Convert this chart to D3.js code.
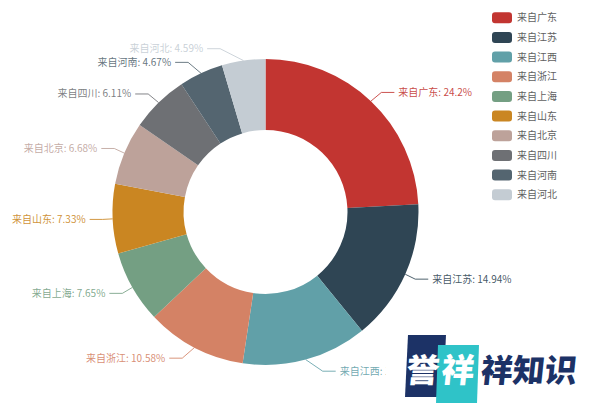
<!DOCTYPE html>
<html>
<head>
<meta charset="utf-8">
<script src="https://cdn.jsdelivr.net/npm/d3@7"></script>
<style>
  html, body { margin: 0; padding: 0; background: #ffffff; }
  svg { display: block; }
</style>
</head>
<body>
<svg id="chart" width="600" height="413"></svg>
<script>
// ---- data ----
const categories = ['来自广东', '来自江苏', '来自江西', '来自浙江', '来自上海', '来自山东', '来自北京', '来自四川', '来自河南', '来自河北'];
const values = [24.2, 14.94, 13.25, 10.58, 7.65, 7.33, 6.68, 6.11, 4.67, 4.59];
const colors = ['#c23531', '#2f4554', '#61a0a8', '#d48265', '#749f83', '#ca8622', '#bda29a', '#6e7074', '#546570', '#c4ccd3'];
const watermarkBoxed = ['誉', '祥'];
const watermarkText = '祥知识';

// ---- layout ----
const W = 600, H = 413;
const cx = 265.5, cy = 212;
const rOuter = 153, rInner = 82;
const labelR = rOuter + 12;      // radial position for label y
const ellA = rOuter + 10, ellB = rOuter + 17; // ellipse for label bend x
const len2 = 13, gap = 4;
const font = '"Noto Sans CJK SC", "Noto Sans", sans-serif';

const svg = d3.select('#chart');
const data = categories.map((c, i) => ({ name: c, value: values[i], color: colors[i] }));

const pie = d3.pie().sort(null).value(d => d.value).startAngle(0).endAngle(2 * Math.PI);
const arcs = pie(data);
const arc = d3.arc().innerRadius(rInner).outerRadius(rOuter);

const g = svg.append('g').attr('transform', `translate(${cx},${cy})`);
g.selectAll('path.slice').data(arcs).enter().append('path')
  .attr('class', 'slice')
  .attr('d', arc)
  .attr('fill', d => d.data.color);

// ---- labels ----
const labels = arcs.map(a => {
  const mid = (a.startAngle + a.endAngle) / 2;
  const sx = Math.sin(mid), sy = -Math.cos(mid);
  const side = sx >= 0 ? 1 : -1;
  return {
    a, side,
    ex: rOuter * sx, ey: rOuter * sy,
    y: labelR * sy
  };
});
// simple collision pass per side
[1, -1].forEach(side => {
  const list = labels.filter(l => l.side === side).sort((p, q) => p.y - q.y);
  for (let i = 1; i < list.length; i++) {
    if (list[i].y - list[i - 1].y < 12) list[i].y = list[i - 1].y + 12;
  }
});
labels.forEach(l => {
  const dy = l.y;
  const t = Math.max(0, 1 - (dy * dy) / (ellB * ellB));
  l.bx = l.side * ellA * Math.sqrt(t);
  l.lx = l.bx + l.side * len2;
  l.tx = l.lx + l.side * gap;
});

const lg = svg.append('g').attr('transform', `translate(${cx},${cy})`);
lg.selectAll('polyline').data(labels).enter().append('polyline')
  .attr('points', d => `${d.ex},${d.ey} ${d.bx},${d.y} ${d.lx},${d.y}`)
  .attr('fill', 'none')
  .attr('stroke', d => d.a.data.color)
  .attr('stroke-opacity', 0.85)
  .attr('stroke-width', 1);
lg.selectAll('text').data(labels).enter().append('text')
  .attr('x', d => d.tx)
  .attr('y', d => d.y)
  .attr('dy', '0.35em')
  .attr('text-anchor', d => d.side > 0 ? 'start' : 'end')
  .attr('font-family', font)
  .attr('font-size', 10)
  .attr('fill', d => d.a.data.color)
  .attr('fill-opacity', 0.9)
  .text(d => `${d.a.data.name}: ${d.a.data.value}%`);

// ---- legend ----
const legY = d3.scalePoint().domain(categories).range([17.8, 194.7]);
const leg = svg.append('g');
const items = leg.selectAll('g').data(data).enter().append('g')
  .attr('transform', d => `translate(492,${legY(d.name)})`);
items.append('rect')
  .attr('x', 0).attr('y', -5.5).attr('width', 20).attr('height', 11)
  .attr('rx', 3).attr('ry', 3)
  .attr('fill', d => d.color);
items.append('text')
  .attr('x', 25).attr('y', 0).attr('dy', '0.35em')
  .attr('font-family', font).attr('font-size', 10)
  .attr('fill', '#5f5f5f')
  .text(d => d.name);

// ---- watermark ----
const wm = svg.append('g');
wm.append('rect').attr('x', 386).attr('y', 328).attr('width', 214).attr('height', 85).attr('fill', '#ffffff');
wm.append('polygon').attr('points', '408,335 446,335 443,397 405,397').attr('fill', '#1c3266');
wm.append('polygon').attr('points', '438,345 479,345 477,403 436,403').attr('fill', '#2fc3c8');
const boxX = [423, 458];
const skew = `skewX(-6) translate(${370 * Math.tan(6 * Math.PI / 180)},0)`;
watermarkBoxed.forEach((ch, i) => {
  wm.append('text')
    .attr('x', boxX[i]).attr('y', 370).attr('dy', '0.36em')
    .attr('text-anchor', 'middle')
    .attr('font-family', font).attr('font-weight', 900).attr('font-size', 33)
    .attr('fill', '#ffffff')
    .attr('transform', skew)
    .text(ch);
});
wm.append('text')
  .attr('x', 481).attr('y', 370).attr('dy', '0.36em')
  .attr('font-family', font).attr('font-weight', 900).attr('font-size', 32)
  .attr('fill', '#1c3266')
  .attr('transform', skew)
  .text(watermarkText);
</script>
</body>
</html>
